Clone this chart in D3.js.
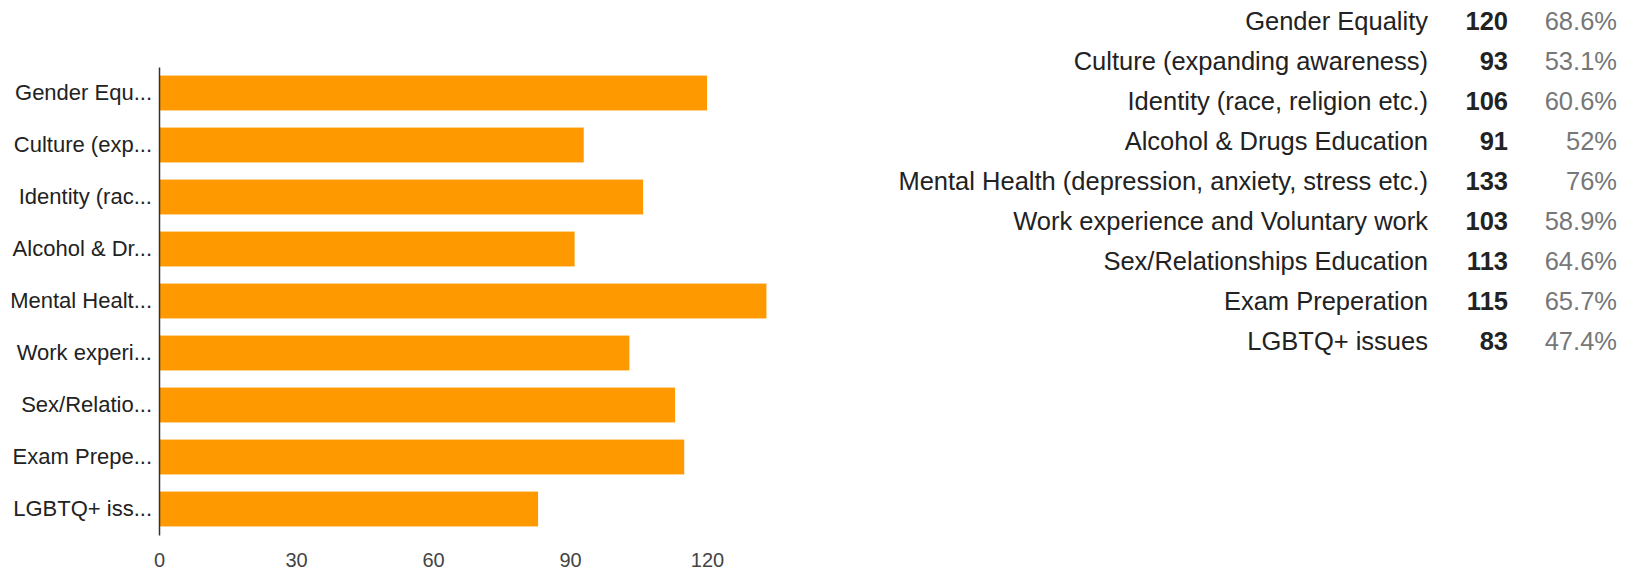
<!DOCTYPE html>
<html>
<head>
<meta charset="utf-8">
<script src="https://cdn.jsdelivr.net/npm/d3@7"></script>
<style>
  body { margin: 0; background: #fff; }
  svg { font-family: Arial, "Liberation Sans", sans-serif; }
</style>
</head>
<body>
<div id="chart"></div>
<script>
// Survey topics, responses and share of respondents
const categories = [
    "Gender Equality",
    "Culture (expanding awareness)",
    "Identity (race, religion etc.)",
    "Alcohol & Drugs Education",
    "Mental Health (depression, anxiety, stress etc.)",
    "Work experience and Voluntary work",
    "Sex/Relationships Education",
    "Exam Preperation",
    "LGBTQ+ issues"
];
const shortLabels = [
    "Gender Equ...",
    "Culture (exp...",
    "Identity (rac...",
    "Alcohol & Dr...",
    "Mental Healt...",
    "Work experi...",
    "Sex/Relatio...",
    "Exam Prepe...",
    "LGBTQ+ iss..."
];
const counts = [120, 93, 106, 91, 133, 103, 113, 115, 83];
const percents = ["68.6%", "53.1%", "60.6%", "52%", "76%", "58.9%", "64.6%", "65.7%", "47.4%"];
const xTicks = [0, 30, 60, 90, 120];

const width = 1627, height = 570;

const svg = d3.select("#chart")
    .append("svg")
    .attr("width", width)
    .attr("height", height);

// Scales
const x = d3.scaleLinear()
    .domain([0, 140])
    .range([159, 798.4]);

const y = d3.scaleBand()
    .domain(categories)
    .range([67, 535])
    .paddingInner(0.33)
    .paddingOuter(0.165);

// Bars
svg.append("g")
    .selectAll("rect")
    .data(categories)
    .join("rect")
    .attr("x", x(0))
    .attr("y", d => y(d))
    .attr("width", (d, i) => x(counts[i]) - x(0))
    .attr("height", y.bandwidth())
    .attr("fill", "#ff9900");

// Left axis with truncated labels
const yAxis = svg.append("g")
    .attr("transform", `translate(${x(0)},0)`)
    .call(d3.axisLeft(y)
        .tickSize(0)
        .tickSizeOuter(0)
        .tickPadding(7)
        .tickFormat((d, i) => shortLabels[i]));

yAxis.select(".domain")
    .attr("stroke", "#333")
    .attr("stroke-width", 1.5);

yAxis.selectAll("text")
    .attr("font-size", 22)
    .attr("fill", "#222");

// Bottom axis (labels only)
const xAxis = svg.append("g")
    .attr("transform", "translate(0,535)")
    .call(d3.axisBottom(x)
        .tickValues(xTicks)
        .tickSize(0)
        .tickPadding(18));

xAxis.select(".domain").remove();
xAxis.selectAll("text")
    .attr("font-size", 20)
    .attr("fill", "#444");

// Summary table on the right
const rowY = d3.scaleBand()
    .domain(categories)
    .range([0, 360]);

const rows = svg.append("g")
    .selectAll("g")
    .data(categories)
    .join("g")
    .attr("transform", d => `translate(0,${rowY(d) + 30})`)
    .attr("font-size", 25.5);

rows.append("text")
    .attr("x", 1428)
    .attr("text-anchor", "end")
    .attr("fill", "#222")
    .text(d => d);

rows.append("text")
    .attr("x", 1508)
    .attr("text-anchor", "end")
    .attr("font-weight", "bold")
    .attr("fill", "#222")
    .text((d, i) => counts[i]);

rows.append("text")
    .attr("x", 1617)
    .attr("text-anchor", "end")
    .attr("fill", "#777")
    .text((d, i) => percents[i]);
</script>
</body>
</html>
